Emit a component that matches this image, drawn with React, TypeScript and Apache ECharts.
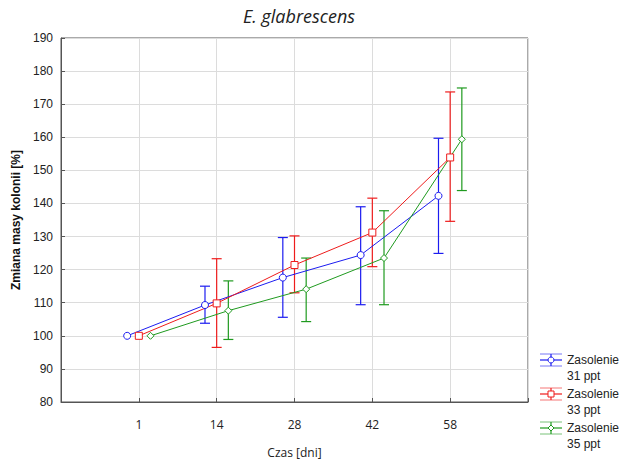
import React, { useEffect, useRef } from "react";
import * as echarts from "echarts";

const categories = ["1", "14", "28", "42", "58"];
const seriesNames = ["Zasolenie\n31 ppt", "Zasolenie\n33 ppt", "Zasolenie\n35 ppt"];
const colors = ["#1c1cf0", "#ee1c1c", "#1f9a1f"];
const symbols = ["circle", "rect", "diamond"];
const symbolSizes = [7, 7, 7];
const offsets = [-0.15, 0, 0.15];

const means31 = [100, 109.3, 117.6, 124.4, 142.3];
const low31 = [100, 103.8, 105.6, 109.4, 124.9];
const high31 = [100, 115.0, 129.7, 139.0, 159.7];

const means33 = [100, 109.8, 121.4, 131.2, 153.9];
const low33 = [100, 96.5, 113.0, 120.9, 134.6];
const high33 = [100, 123.3, 130.2, 141.6, 173.7];

const means35 = [100, 107.6, 114.1, 123.5, 159.4];
const low35 = [100, 98.9, 104.3, 109.4, 143.9];
const high35 = [100, 116.6, 123.5, 137.8, 174.9];

const yTicks = { min: 80, max: 190, interval: 10 };

const allMeans = [means31, means33, means35];
const allLows = [low31, low33, low35];
const allHighs = [high31, high33, high35];

export default function App() {
  const ref = useRef<HTMLDivElement>(null);
  useEffect(() => {
    if (!ref.current) return;
    const chart = echarts.init(ref.current, null, { renderer: "svg" });
    const series: any[] = [];
    allMeans.forEach((means, s) => {
      const errData = means.map((_, i) => [i + 1 + offsets[s], allLows[s][i], allHighs[s][i]]);
      series.push({
        type: "custom",
        name: seriesNames[s] + "_err",
        data: errData,
        z: 3,
        renderItem: (params: any, api: any) => {
          const x = api.value(0);
          const lo = api.coord([x, api.value(1)]);
          const hi = api.coord([x, api.value(2)]);
          if (Math.abs(lo[1] - hi[1]) < 1) return { type: "group", children: [] };
          const w = 5;
          const st = { stroke: colors[s], lineWidth: 1.2 };
          return {
            type: "group",
            children: [
              { type: "line", shape: { x1: lo[0], y1: lo[1], x2: hi[0], y2: hi[1] }, style: st },
              { type: "line", shape: { x1: lo[0] - w, y1: lo[1], x2: lo[0] + w, y2: lo[1] }, style: st },
              { type: "line", shape: { x1: hi[0] - w, y1: hi[1], x2: hi[0] + w, y2: hi[1] }, style: st },
            ],
          };
        },
      });
      series.push({
        type: "line",
        name: seriesNames[s],
        data: means.map((v, i) => [i + 1 + offsets[s], v]),
        symbol: symbols[s],
        symbolSize: symbolSizes[s],
        showAllSymbol: true,
        z: 4,
        lineStyle: { color: colors[s], width: 1 },
        itemStyle: { color: "#ffffff", borderColor: colors[s], borderWidth: 1 },
      });
    });

    const legendGraphics: any[] = [];
    const legendYs = [360, 394, 428];
    legendYs.forEach((y, s) => {
      const x0 = 540;
      const x1 = 562;
      const cx = 551;
      const light = { stroke: colors[s], lineWidth: 1, opacity: 0.6 };
      const st = { stroke: colors[s], lineWidth: 1.2 };
      legendGraphics.push(
        { type: "line", shape: { x1: x0, y1: y - 6, x2: x1, y2: y - 6 }, style: light },
        { type: "line", shape: { x1: x0, y1: y + 6, x2: x1, y2: y + 6 }, style: light },
        { type: "line", shape: { x1: x0, y1: y, x2: x1, y2: y }, style: st },
        { type: "line", shape: { x1: cx, y1: y - 6, x2: cx, y2: y + 6 }, style: st }
      );
      if (s === 0) {
        legendGraphics.push({ type: "circle", shape: { cx, cy: y, r: 3 }, style: { fill: "#fff", stroke: colors[s], lineWidth: 1 } });
      } else if (s === 1) {
        legendGraphics.push({ type: "rect", shape: { x: cx - 3, y: y - 3, width: 6, height: 6 }, style: { fill: "#fff", stroke: colors[s], lineWidth: 1 } });
      } else {
        legendGraphics.push({ type: "polygon", shape: { points: [[cx, y - 3], [cx + 3, y], [cx, y + 3], [cx - 3, y]] }, style: { fill: "#fff", stroke: colors[s], lineWidth: 1 } });
      }
      legendGraphics.push({
        type: "text",
        x: 567,
        y: y - 8,
        style: {
          text: seriesNames[s],
          font: "12px 'Liberation Sans', Arial, sans-serif",
          fill: "#222",
          lineHeight: 16,
        },
      });
    });

    chart.setOption({
      animation: false,
      backgroundColor: "#ffffff",
      title: {
        text: "E. glabrescens",
        left: 294,
        top: 2,
        textAlign: "center",
        textStyle: { fontFamily: "'Open Sans', sans-serif", fontStyle: "italic", fontWeight: "normal", fontSize: 18, color: "#222" },
      },
      grid: { left: 61, right: 102, top: 38, bottom: 63, show: true, borderColor: "#555", borderWidth: 1 },
      xAxis: {
        type: "value",
        min: 0,
        max: 6,
        interval: 1,
        name: "Czas [dni]",
        nameLocation: "middle",
        nameGap: 44,
        nameTextStyle: { fontFamily: "'Open Sans', sans-serif", fontSize: 12, color: "#222" },
        axisLine: { lineStyle: { color: "#555" } },
        axisTick: { inside: true, length: 4, lineStyle: { color: "#555" } },
        axisLabel: {
          margin: 16,
          fontFamily: "'Open Sans', sans-serif",
          fontSize: 12,
          color: "#222",
          formatter: (v: number) => (v >= 1 && v <= 5 ? categories[Math.round(v) - 1] : ""),
        },
        splitLine: { show: true, lineStyle: { color: "#dcdcdc" } },
      },
      yAxis: {
        type: "value",
        min: yTicks.min,
        max: yTicks.max,
        interval: yTicks.interval,
        name: "Zmiana masy kolonii [%]",
        nameLocation: "middle",
        nameGap: 37,
        nameTextStyle: { fontFamily: "'Liberation Sans', Arial, sans-serif", fontWeight: "bold", fontSize: 12, color: "#111" },
        axisLine: { show: true, lineStyle: { color: "#555" } },
        axisTick: { inside: true, length: 4, lineStyle: { color: "#555" } },
        axisLabel: { margin: 8, fontFamily: "'Liberation Sans', Arial, sans-serif", fontSize: 12, color: "#222" },
        splitLine: { show: true, lineStyle: { color: "#dcdcdc" } },
      },
      series,
      graphic: legendGraphics,
    });
    return () => chart.dispose();
  }, []);
  return <div ref={ref} style={{ position: "fixed", left: 0, top: 0, width: 630, height: 465 }} />;
}
